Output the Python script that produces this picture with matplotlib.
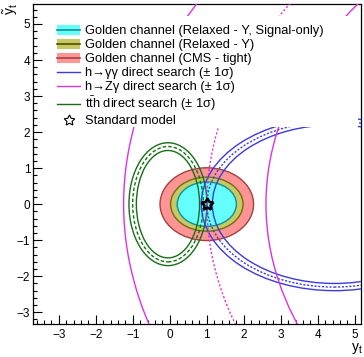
import matplotlib
matplotlib.use("Agg")
import matplotlib.pyplot as plt
from matplotlib.patches import Ellipse, Patch, Rectangle
from matplotlib.lines import Line2D
from matplotlib.ticker import MultipleLocator

plt.rcParams['font.family'] = ['Liberation Sans', 'DejaVu Sans']
plt.rcParams['mathtext.fontset'] = 'custom'
plt.rcParams['mathtext.rm'] = 'Liberation Sans'
plt.rcParams['mathtext.it'] = 'Liberation Sans:italic'

# golden channel regions: centre, half widths (y_t, y~_t)
gold_labels = ["Golden channel (CMS - tight)",
               "Golden channel (Relaxed - Y)",
               "Golden channel (Relaxed - Y, Signal-only)"]
gold_center = [(1.0, 0.0), (1.0, 0.0), (1.0, 0.0)]
gold_a = [1.265, 0.98, 0.80]
gold_b = [1.01, 0.75, 0.615]
gold_fill = ["#ff9494", "#c8c864", "#66ffff"]
gold_edge = ["#a34040", "#6e6e10", "#109090"]

# direct searches: -1 sigma, central, +1 sigma ellipses
tth_center = (-0.05, 0.0)
tth_a = [0.855, 0.955, 1.055]
tth_b = [1.49, 1.60, 1.705]

hgg_center = (4.45, 0.0)
hgg_a = [3.30, 3.45, 3.60]
hgg_b = [2.20, 2.30, 2.40]

hzg_center = (20.0, 0.0)
hzg_a = [17.4, 19.0, 21.25]
hzg_b = [10.8, 11.8, 13.2]

sm_point = (1.0, 0.0)

xmin, xmax = -3.70, 5.17
ymin, ymax = -3.325, 5.555


def ring(ax, center, a_list, b_list, color, mid_style):
    for i in range(3):
        ls = mid_style if i == 1 else "-"
        ax.add_patch(Ellipse(center, 2 * a_list[i], 2 * b_list[i], fill=False,
                             edgecolor=color, lw=1.0, ls=ls, zorder=4))


fig = plt.figure(figsize=(3.64, 3.57), dpi=100)
ax = fig.add_axes([33 / 364, 33 / 357, 328 / 364, 320 / 357])

for i in range(3):
    ax.add_patch(Ellipse(gold_center[i], 2 * gold_a[i], 2 * gold_b[i],
                         facecolor=gold_fill[i], edgecolor=gold_edge[i],
                         lw=1.0, zorder=1 + i))

ring(ax, tth_center, tth_a, tth_b, "#157015", (0, (2.5, 1.5)))
ring(ax, hgg_center, hgg_a, hgg_b, "#3a3ae0", (0, (1.5, 1.2)))
ring(ax, hzg_center, hzg_a, hzg_b, "#dd33dd", (0, (1.5, 1.5)))

ax.plot([sm_point[0]], [sm_point[1]], ls="none", marker=(5, 1, 0), ms=9,
        mfc="none", mec="black", mew=1.8, zorder=5)

# white legend box (hides curves like in ROOT)
ax.add_patch(Rectangle((0.05, 0.616), 0.94, 0.3465, transform=ax.transAxes,
                       facecolor="white", edgecolor="none", zorder=6))

handles = [
    (Patch(facecolor=gold_fill[2], edgecolor="none"), Line2D([], [], color=gold_edge[2], lw=1.2)),
    (Patch(facecolor=gold_fill[1], edgecolor="none"), Line2D([], [], color="#505000", lw=1.2)),
    (Patch(facecolor=gold_fill[0], edgecolor="none"), Line2D([], [], color=gold_edge[0], lw=1.2)),
    Line2D([], [], color="#3a3ae0", lw=1.0),
    Line2D([], [], color="#dd33dd", lw=1.0),
    Line2D([], [], color="#157015", lw=1.0),
    Line2D([], [], ls="none", marker=(5, 1, 0), ms=8, mfc="none", mec="black", mew=0.8),
]
labels = [gold_labels[2], gold_labels[1], gold_labels[0],
          "h\u2192\u03b3\u03b3 direct search (\u00b1 1\u03c3)",
          "h\u2192Z\u03b3 direct search (\u00b1 1\u03c3)",
          "t$\\bar{\\mathrm{t}}$h direct search (\u00b1 1\u03c3)",
          "Standard model"]
leg = fig.legend(handles, labels, loc="upper left",
                 bbox_to_anchor=(57 / 364, 1 - 25 / 357),
                 frameon=False, fontsize=9.3, handlelength=1.8,
                 handleheight=0.8, handletextpad=0.4, labelspacing=0.12,
                 borderpad=0, borderaxespad=0)
leg.set_zorder(7)

ax.set_xlim(xmin, xmax)
ax.set_ylim(ymin, ymax)
ax.xaxis.set_major_locator(MultipleLocator(1))
ax.xaxis.set_minor_locator(MultipleLocator(0.2))
ax.yaxis.set_major_locator(MultipleLocator(1))
ax.yaxis.set_minor_locator(MultipleLocator(0.2))
ax.tick_params(which="both", direction="in", top=False, right=False,
               labelsize=8.5, width=0.8)
ax.tick_params(axis="x", which="major", length=6.5, pad=3.5)
ax.tick_params(axis="y", which="major", length=6.5, pad=2)
ax.tick_params(which="minor", length=3.2)
for s in ax.spines.values():
    s.set_linewidth(0.9)

fig.text(357 / 364, 1 - 349 / 357, r"y$_\mathrm{t}$", fontsize=10,
         ha="center", va="center")
fig.text(11 / 364, 1 - 9 / 357, r"$\tilde{\mathrm{y}}_\mathrm{t}$", fontsize=10,
         ha="center", va="center", rotation=90)

fig.savefig("out.png", dpi=100)
